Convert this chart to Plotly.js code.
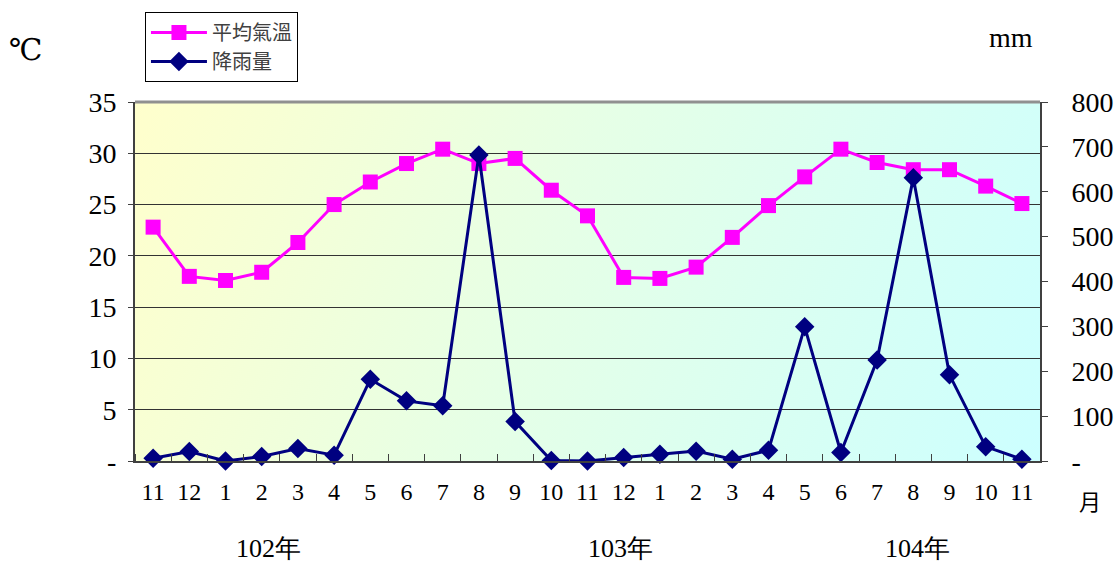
<!DOCTYPE html>
<html>
<head>
<meta charset="utf-8">
<script src="https://cdn.plot.ly/plotly-3.0.1.min.js"></script>
<style>html,body{margin:0;padding:0;background:#fff;}#chart{width:1114px;height:565px;}</style>
</head>
<body>
<div id="chart"></div>
<script>
const months = ["11","12","1","2","3","4","5","6","7","8","9","10","11","12","1","2","3","4","5","6","7","8","9","10","11"];
const temperature = [22.8,18.0,17.6,18.4,21.3,25.0,27.2,29.0,30.4,29.0,29.5,26.4,23.9,17.9,17.8,18.9,21.8,24.9,27.7,30.4,29.1,28.4,28.4,26.8,25.1];
const rainfall = [6,21,0,10,28,13,182,134,123,682,88,1,0,8,15,22,4,24,299,19,225,631,192,32,4];
const tempTicks = [0,5,10,15,20,25,30,35];
const tempTickText = ["-","5","10","15","20","25","30","35"];
const rainTicks = [0,100,200,300,400,500,600,700,800];
const rainTickText = ["-","100","200","300","400","500","600","700","800"];
const yearLabels = ["102年","103年","104年"];

const idx = months.map((m,i)=>i);

// gradient background image
const cv = document.createElement('canvas');
cv.width = 905; cv.height = 359;
const ctx = cv.getContext('2d');
const g = ctx.createLinearGradient(0,0,905,359);
g.addColorStop(0,'#FFFFCC');
g.addColorStop(0.45,'#E6FFE6');
g.addColorStop(1,'#CCFFFF');
ctx.fillStyle = g;
ctx.fillRect(0,0,905,359);
const bg = cv.toDataURL();

const serif = '"Liberation Serif", "Times New Roman", "DejaVu Serif", serif';
const cjk = '"Noto Sans CJK TC", sans-serif';

const traces = [
  {x: idx, y: temperature, name: '平均氣溫', type:'scatter', mode:'lines+markers',
   line:{color:'#FF00FF', width:3}, marker:{symbol:'square', size:15, color:'#FF00FF'}, yaxis:'y', cliponaxis:false},
  {x: idx, y: rainfall, name: '降雨量', type:'scatter', mode:'lines+markers',
   line:{color:'#000080', width:3}, marker:{symbol:'diamond', size:15, color:'#000080'}, yaxis:'y2', cliponaxis:false}
];

const layout = {
  width:1114, height:565,
  margin:{l:135, r:74, t:102, b:104},
  paper_bgcolor:'#ffffff', plot_bgcolor:'rgba(0,0,0,0)',
  showlegend:true,
  legend:{x:0.011, y:1.2507, xanchor:'left', yanchor:'top', bgcolor:'#ffffff', bordercolor:'#000000', borderwidth:1,
    font:{family:cjk, size:20, color:'#404040'}, tracegroupgap:0, itemwidth:56},
  images:[{source:bg, xref:'paper', yref:'paper', x:0, y:1, sizex:1, sizey:1, sizing:'stretch', layer:'below', xanchor:'left', yanchor:'top'}],
  xaxis:{range:[-0.5,24.5], tickmode:'array', tickvals:idx, ticktext:months, ticks:'', showgrid:false, zeroline:false,
    showline:true, linecolor:'#404040', linewidth:2, mirror:false, fixedrange:true,
    tickfont:{family:serif, size:24, color:'#000'}, ticklabelstandoff:8,
    minor:{tick0:-0.5, dtick:1, ticks:'inside', ticklen:7, tickcolor:'#404040', tickwidth:1, showgrid:false}},
  yaxis:{range:[0,35], tickmode:'array', tickvals:tempTicks, ticktext:tempTickText, ticks:'outside', ticklen:5, tickcolor:'#404040',
    showgrid:true, gridcolor:'#333333', gridwidth:1, zeroline:false, showline:true, linecolor:'#404040', linewidth:2,
    tickfont:{family:serif, size:28, color:'#000'}, ticklabelstandoff:6},
  yaxis2:{range:[0,800], overlaying:'y', side:'right', tickmode:'array', tickvals:rainTicks, ticktext:rainTickText,
    ticks:'outside', ticklen:6, tickcolor:'#404040', showgrid:false, zeroline:false, showline:true, linecolor:'#404040', linewidth:2,
    tickfont:{family:serif, size:28, color:'#000'}, ticklabelstandoff:18},
  shapes:[{type:'line', xref:'paper', yref:'paper', x0:0, x1:1, y0:1, y1:1, line:{color:'#909090', width:3}}],
  annotations:[
    {text:'℃', xref:'paper', yref:'paper', x:-0.12, y:1.145, xanchor:'center', yanchor:'middle', showarrow:false, font:{family:serif, size:30, color:'#000'}},
    {text:'mm', xref:'paper', yref:'paper', x:0.968, y:1.18, xanchor:'center', yanchor:'middle', showarrow:false, font:{family:serif, size:28, color:'#000'}},
    {text:'月', xref:'paper', yref:'paper', x:1.055, y:-0.11, xanchor:'center', yanchor:'middle', showarrow:false, font:{family:cjk, size:22, color:'#000'}},
    {text:yearLabels[0], xref:'paper', yref:'paper', x:0.147, y:-0.245, xanchor:'center', yanchor:'middle', showarrow:false, font:{family:serif, size:26, color:'#000'}},
    {text:yearLabels[1], xref:'paper', yref:'paper', x:0.536, y:-0.245, xanchor:'center', yanchor:'middle', showarrow:false, font:{family:serif, size:26, color:'#000'}},
    {text:yearLabels[2], xref:'paper', yref:'paper', x:0.865, y:-0.245, xanchor:'center', yanchor:'middle', showarrow:false, font:{family:serif, size:26, color:'#000'}}
  ]
};

Plotly.newPlot('chart', traces, layout, {displayModeBar:false, staticPlot:true});
</script>
</body>
</html>
